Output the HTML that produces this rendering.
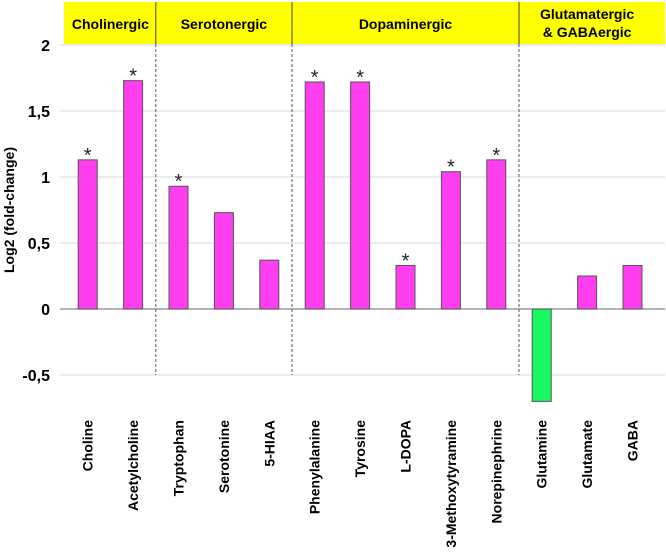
<!DOCTYPE html>
<html><head><meta charset="utf-8"><style>
body{margin:0;background:#fff;}
svg{display:block;font-family:"Liberation Sans",sans-serif;}
</style></head><body>
<svg id="chart" width="666" height="558"></svg>
<script>
const categories=["Choline","Acetylcholine","Tryptophan","Serotonine","5-HIAA","Phenylalanine","Tyrosine","L-DOPA","3-Methoxytyramine","Norepinephrine","Glutamine","Glutamate","GABA"];
const values=[1.13,1.73,0.93,0.73,0.37,1.72,1.72,0.33,1.04,1.13,-0.70,0.25,0.33];
const significant=[1,1,1,0,0,1,1,1,1,1,0,0,0];
const yTicks=[2,1.5,1,0.5,0,-0.5];
const yTickLabels=["2","1,5","1","0,5","0","-0,5"];
const groupNames=[["Cholinergic"],["Serotonergic"],["Dopaminergic"],["Glutamatergic","& GABAergic"]];
const groupSizes=[2,3,5,3];

const NS="http://www.w3.org/2000/svg";
const svg=document.getElementById('chart');
const x0=65,band=45.4,bw=19;
const y=v=>309-v*132;
const xc=i=>x0+band*(i+0.5);
function mk(t,a,p){const e=document.createElementNS(NS,t);for(const k in a)e.setAttribute(k,a[k]);(p||svg).appendChild(e);return e;}

// header
const hdr=mk('rect',{x:64,y:2,width:601,height:42,fill:'#ffff00'});



// gridlines and ticks
yTicks.forEach((t,i)=>{
  const g=mk('line',{x1:60,x2:665,y1:y(t),y2:y(t),stroke:t===0?'#888':'#d9d9d9','stroke-width':t===0?1.3:1});
  
  
  const l=mk('text',{x:50,y:y(t)+6,'text-anchor':'end','font-size':16,'font-weight':'bold',fill:'#000'});
  l.textContent=yTickLabels[i];
  
  
});

// group dividers & labels
let start=0;
groupSizes.forEach((n,gi)=>{
  const xs=x0+band*start, xe=x0+band*(start+n);
  if(gi>0){
    const d1=mk('line',{x1:xs,x2:xs,y1:2,y2:44,stroke:'#444','stroke-width':1});
    
    
    const d2=mk('line',{x1:xs,x2:xs,y1:44,y2:y(-0.5),stroke:'#555','stroke-width':1,'stroke-dasharray':'3,2'});
    
    
  }
  const lines=groupNames[gi];
  lines.forEach((s,li)=>{
    const t=mk('text',{x:(xs+xe)/2,y:lines.length===1?29:19+li*18,'text-anchor':'middle','font-size':14,'font-weight':'bold',fill:'#000'});
    t.textContent=s;
    
    
  });
  start+=n;
});

// bars
values.forEach((v,i)=>{
  const top=Math.min(y(v),y(0)),h=Math.abs(y(v)-y(0));
  const b=mk('rect',{x:xc(i)-bw/2,y:top,width:bw,height:h,fill:v<0?'#19f763':'#ff3ef0',stroke:'#555','stroke-width':1});
  
  
  if(significant[i]){
    const s=mk('text',{x:xc(i),y:y(v)+2,'text-anchor':'middle','font-size':20,fill:'#222'});
    s.textContent='*';
    
    
  }
  const l=mk('text',{x:0,y:0,'text-anchor':'end','font-size':14,'font-weight':'bold',fill:'#000',transform:`translate(${xc(i)+5},420) rotate(-90)`});
  l.textContent=categories[i];
  
  
});

// y-axis title
const yt=mk('text',{x:0,y:0,'text-anchor':'middle','font-size':14,'font-weight':'bold',fill:'#000',transform:`translate(14,210) rotate(-90)`});
yt.textContent='Log2 (fold-change)';


</script>
</body></html>
